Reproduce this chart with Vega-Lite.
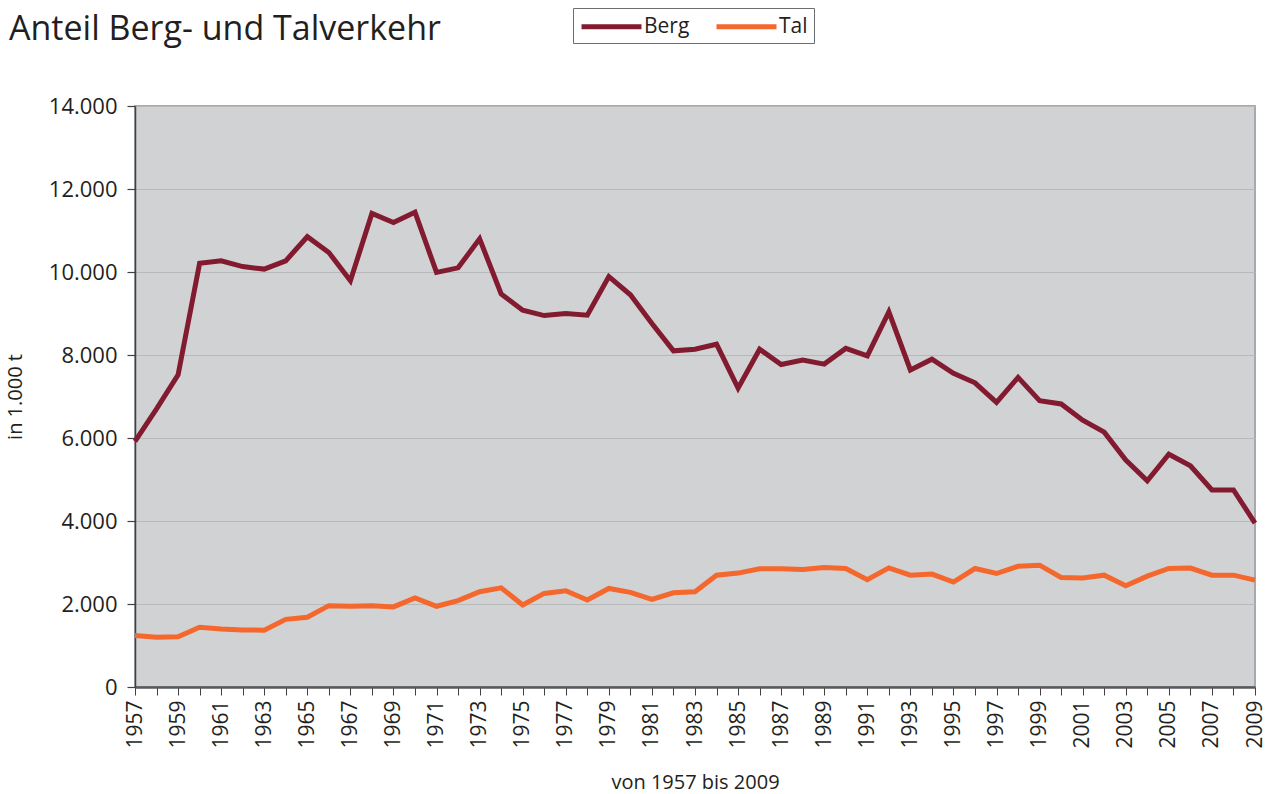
{
  "$schema": "https://vega.github.io/schema/vega-lite/v6.json",
  "width": 1120,
  "height": 581,
  "autosize": {"type": "none"},
  "padding": {"left": 135, "top": 106, "right": 19, "bottom": 107},
  "background": "white",
  "title": {
    "text": "Anteil Berg- und Talverkehr",
    "anchor": "start",
    "frame": "group",
    "font": "Open Sans",
    "fontSize": 34,
    "fontWeight": "normal",
    "color": "#231F20",
    "baseline": "alphabetic",
    "offset": -66,
    "dx": -126
  },
  "config": {
    "font": "Open Sans",
    "view": {"fill": "#D1D2D4", "stroke": "#A7A9AC", "strokeWidth": 2}
  },
  "data": {
    "values": [
      {"year": 1957, "series": "Berg", "value": 5920},
      {"year": 1958, "series": "Berg", "value": 6700},
      {"year": 1959, "series": "Berg", "value": 7520},
      {"year": 1960, "series": "Berg", "value": 10210},
      {"year": 1961, "series": "Berg", "value": 10270},
      {"year": 1962, "series": "Berg", "value": 10130},
      {"year": 1963, "series": "Berg", "value": 10070},
      {"year": 1964, "series": "Berg", "value": 10270},
      {"year": 1965, "series": "Berg", "value": 10850},
      {"year": 1966, "series": "Berg", "value": 10470},
      {"year": 1967, "series": "Berg", "value": 9790},
      {"year": 1968, "series": "Berg", "value": 11410},
      {"year": 1969, "series": "Berg", "value": 11190},
      {"year": 1970, "series": "Berg", "value": 11440},
      {"year": 1971, "series": "Berg", "value": 9990},
      {"year": 1972, "series": "Berg", "value": 10100},
      {"year": 1973, "series": "Berg", "value": 10800},
      {"year": 1974, "series": "Berg", "value": 9470},
      {"year": 1975, "series": "Berg", "value": 9080},
      {"year": 1976, "series": "Berg", "value": 8950},
      {"year": 1977, "series": "Berg", "value": 9000},
      {"year": 1978, "series": "Berg", "value": 8960},
      {"year": 1979, "series": "Berg", "value": 9890},
      {"year": 1980, "series": "Berg", "value": 9450},
      {"year": 1981, "series": "Berg", "value": 8760},
      {"year": 1982, "series": "Berg", "value": 8100},
      {"year": 1983, "series": "Berg", "value": 8140},
      {"year": 1984, "series": "Berg", "value": 8260},
      {"year": 1985, "series": "Berg", "value": 7200},
      {"year": 1986, "series": "Berg", "value": 8140},
      {"year": 1987, "series": "Berg", "value": 7770},
      {"year": 1988, "series": "Berg", "value": 7880},
      {"year": 1989, "series": "Berg", "value": 7780},
      {"year": 1990, "series": "Berg", "value": 8160},
      {"year": 1991, "series": "Berg", "value": 7980},
      {"year": 1992, "series": "Berg", "value": 9040},
      {"year": 1993, "series": "Berg", "value": 7640},
      {"year": 1994, "series": "Berg", "value": 7900},
      {"year": 1995, "series": "Berg", "value": 7560},
      {"year": 1996, "series": "Berg", "value": 7330},
      {"year": 1997, "series": "Berg", "value": 6860},
      {"year": 1998, "series": "Berg", "value": 7460},
      {"year": 1999, "series": "Berg", "value": 6900},
      {"year": 2000, "series": "Berg", "value": 6820},
      {"year": 2001, "series": "Berg", "value": 6430},
      {"year": 2002, "series": "Berg", "value": 6140},
      {"year": 2003, "series": "Berg", "value": 5470},
      {"year": 2004, "series": "Berg", "value": 4970},
      {"year": 2005, "series": "Berg", "value": 5610},
      {"year": 2006, "series": "Berg", "value": 5330},
      {"year": 2007, "series": "Berg", "value": 4750},
      {"year": 2008, "series": "Berg", "value": 4750},
      {"year": 2009, "series": "Berg", "value": 3950},
      {"year": 1957, "series": "Tal", "value": 1240},
      {"year": 1958, "series": "Tal", "value": 1200},
      {"year": 1959, "series": "Tal", "value": 1210},
      {"year": 1960, "series": "Tal", "value": 1440},
      {"year": 1961, "series": "Tal", "value": 1400},
      {"year": 1962, "series": "Tal", "value": 1375},
      {"year": 1963, "series": "Tal", "value": 1370},
      {"year": 1964, "series": "Tal", "value": 1630},
      {"year": 1965, "series": "Tal", "value": 1680},
      {"year": 1966, "series": "Tal", "value": 1960},
      {"year": 1967, "series": "Tal", "value": 1945},
      {"year": 1968, "series": "Tal", "value": 1960},
      {"year": 1969, "series": "Tal", "value": 1930},
      {"year": 1970, "series": "Tal", "value": 2145},
      {"year": 1971, "series": "Tal", "value": 1945},
      {"year": 1972, "series": "Tal", "value": 2080},
      {"year": 1973, "series": "Tal", "value": 2295},
      {"year": 1974, "series": "Tal", "value": 2390},
      {"year": 1975, "series": "Tal", "value": 1975},
      {"year": 1976, "series": "Tal", "value": 2255},
      {"year": 1977, "series": "Tal", "value": 2320},
      {"year": 1978, "series": "Tal", "value": 2095},
      {"year": 1979, "series": "Tal", "value": 2375},
      {"year": 1980, "series": "Tal", "value": 2280},
      {"year": 1981, "series": "Tal", "value": 2110},
      {"year": 1982, "series": "Tal", "value": 2270},
      {"year": 1983, "series": "Tal", "value": 2295},
      {"year": 1984, "series": "Tal", "value": 2695},
      {"year": 1985, "series": "Tal", "value": 2745},
      {"year": 1986, "series": "Tal", "value": 2850},
      {"year": 1987, "series": "Tal", "value": 2850},
      {"year": 1988, "series": "Tal", "value": 2830},
      {"year": 1989, "series": "Tal", "value": 2880},
      {"year": 1990, "series": "Tal", "value": 2855},
      {"year": 1991, "series": "Tal", "value": 2585},
      {"year": 1992, "series": "Tal", "value": 2870},
      {"year": 1993, "series": "Tal", "value": 2695},
      {"year": 1994, "series": "Tal", "value": 2720},
      {"year": 1995, "series": "Tal", "value": 2530},
      {"year": 1996, "series": "Tal", "value": 2855},
      {"year": 1997, "series": "Tal", "value": 2735},
      {"year": 1998, "series": "Tal", "value": 2910},
      {"year": 1999, "series": "Tal", "value": 2935},
      {"year": 2000, "series": "Tal", "value": 2640},
      {"year": 2001, "series": "Tal", "value": 2625},
      {"year": 2002, "series": "Tal", "value": 2695},
      {"year": 2003, "series": "Tal", "value": 2440},
      {"year": 2004, "series": "Tal", "value": 2670},
      {"year": 2005, "series": "Tal", "value": 2855},
      {"year": 2006, "series": "Tal", "value": 2865},
      {"year": 2007, "series": "Tal", "value": 2695},
      {"year": 2008, "series": "Tal", "value": 2695},
      {"year": 2009, "series": "Tal", "value": 2575}
    ]
  },
  "mark": {"type": "line", "strokeWidth": 5, "strokeJoin": "miter", "clip": false},
  "encoding": {
    "x": {
      "field": "year",
      "type": "quantitative",
      "scale": {"domain": [1957, 2009], "nice": false, "zero": false},
      "axis": {
        "title": "von 1957 bis 2009",
        "titleFont": "Open Sans",
        "titleFontSize": 20,
        "titleFontWeight": "normal",
        "titleColor": "#231F20",
        "titlePadding": 24,
        "values": [1957,1958,1959,1960,1961,1962,1963,1964,1965,1966,1967,1968,1969,1970,1971,1972,1973,1974,1975,1976,1977,1978,1979,1980,1981,1982,1983,1984,1985,1986,1987,1988,1989,1990,1991,1992,1993,1994,1995,1996,1997,1998,1999,2000,2001,2002,2003,2004,2005,2006,2007,2008,2009],
        "labelExpr": "datum.value % 2 == 1 ? toString(datum.value) : ''",
        "labelAngle": 270,
        "labelAlign": "right",
        "labelBaseline": "middle",
        "labelFont": "Open Sans",
        "labelFontSize": 21,
        "labelColor": "#231F20",
        "labelPadding": 5,
        "labelOverlap": false,
        "labelFlush": false,
        "grid": false,
        "domainColor": "#58595B",
        "domainWidth": 2.5,
        "tickColor": "#414042",
        "tickSize": 8,
        "tickWidth": 1
      }
    },
    "y": {
      "field": "value",
      "type": "quantitative",
      "scale": {"domain": [0, 14000], "nice": false},
      "axis": {
        "title": "in 1.000 t",
        "titleFont": "Open Sans",
        "titleFontSize": 20,
        "titleFontWeight": "normal",
        "titleColor": "#231F20",
        "titlePadding": 23,
        "values": [0, 2000, 4000, 6000, 8000, 10000, 12000, 14000],
        "labelExpr": "replace(format(datum.value, ','), ',', '.')",
        "labelFont": "Open Sans",
        "labelFontSize": 22,
        "labelColor": "#231F20",
        "labelPadding": 10,
        "grid": true,
        "gridColor": "#B7B8BA",
        "gridWidth": 1,
        "domainColor": "#414042",
        "domainWidth": 1.5,
        "tickColor": "#414042",
        "tickSize": 8,
        "tickWidth": 1.2
      }
    },
    "color": {
      "field": "series",
      "type": "nominal",
      "scale": {"domain": ["Berg", "Tal"], "range": ["#821A30", "#F4672D"]},
      "legend": {
        "title": null,
        "orient": "none",
        "direction": "horizontal",
        "legendX": 438,
        "legendY": -98,
        "symbolType": "M-1,0H5",
        "symbolSize": 400,
        "symbolStrokeWidth": 5,
        "labelFont": "Open Sans",
        "labelFontSize": 21,
        "labelColor": "#231F20",
        "labelOffset": 40,
        "columnPadding": 16,
        "padding": 6,
        "strokeColor": "#6D6E71",
        "fillColor": "white"
      }
    }
  }
}
